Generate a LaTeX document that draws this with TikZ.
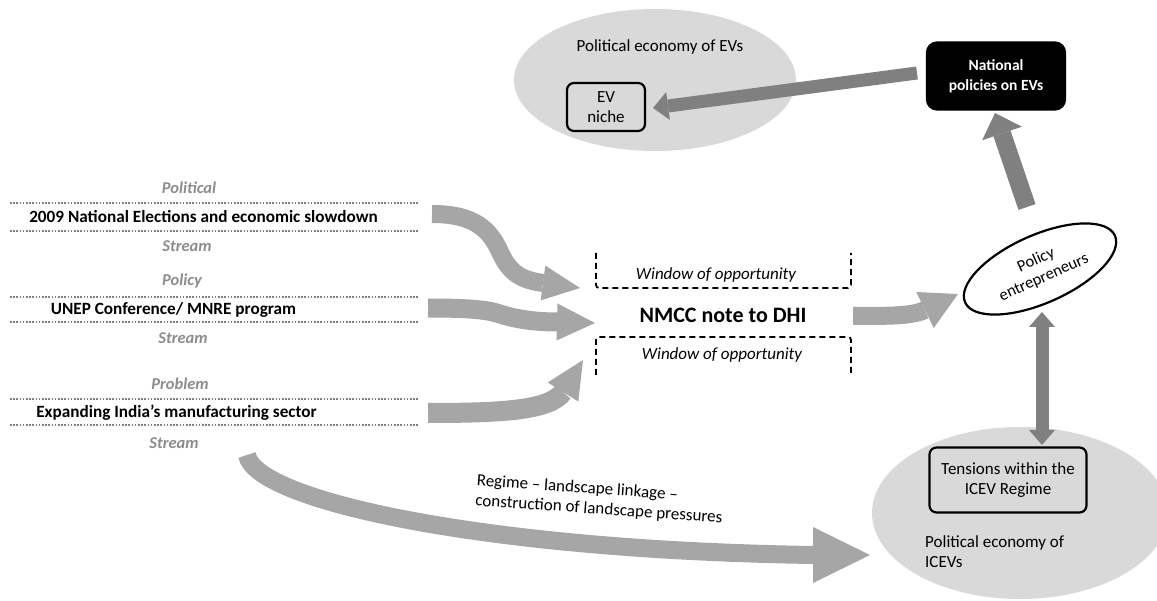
\documentclass[tikz,border=0pt]{standalone}
\usepackage{fontspec}
\setmainfont{Carlito}
\usetikzlibrary{shapes.geometric,calc}
\definecolor{lgray}{HTML}{A6A6A6}
\definecolor{dgray}{HTML}{808080}
\definecolor{efill}{HTML}{D9D9D9}
\definecolor{sgray}{HTML}{8C8C8C}
\definecolor{dotc}{HTML}{808080}
\newcommand\arrhead[4]{\fill[#4] ($(#1)!#3!90:(#2)$) -- (#2) -- ($(#1)!#3!-90:(#2)$) -- cycle;}
\begin{document}
\begin{tikzpicture}[x=1pt,y=-1pt,
  streamlbl/.style={text=sgray, inner sep=0pt, font=\fontsize{16.5}{18}\selectfont\bfseries\itshape},
  streamtxt/.style={inner sep=0pt, font=\fontsize{17.2}{20}\selectfont\bfseries},
  dotline/.style={dotc, line width=1.6pt, dash pattern=on 1.6pt off 1.6pt},
  plain/.style={inner sep=0pt, font=\fontsize{17}{20}\selectfont},
  winlbl/.style={inner sep=0pt, font=\fontsize{17}{20}\selectfont\itshape},
  bracket/.style={line width=1.8pt, dash pattern=on 6pt off 4pt, rounded corners=3pt},
  rbox/.style={draw=black, line width=2.2pt, rounded corners=7pt, fill=efill, align=center,
    inner sep=0pt, font=\fontsize{17}{20.5}\selectfont},
  lshaft/.style={lgray, line cap=butt},
  dshaft/.style={dgray, line cap=butt},
  bigell/.style={ellipse, fill=efill, inner sep=0pt}
]
\useasboundingbox (0,0) rectangle (1157,601);

% --- political economy ellipses
\node[bigell, minimum width=282pt, minimum height=142pt] (evpe) at (655,80) {};
\node[bigell, minimum width=296pt, minimum height=172pt] (icpe) at (1020,513) {};
\node[plain] (evpelbl) at (660,47) {Political economy of EVs};
\node[plain, align=left, anchor=west, font=\fontsize{17}{20}\selectfont] (icpelbl) at (925,552) {Political economy of\\ICEVs};

% --- streams
\node[streamlbl] (l1a) at (189,188) {Political};
\draw[dotline] (10,203) -- (418,203);
\node[streamtxt] (s1) at (203.5,217) {2009 National Elections and economic slowdown};
\draw[dotline] (10,231) -- (418,231);
\node[streamlbl] (l1b) at (187,246) {Stream};

\node[streamlbl] (l2a) at (182,281) {Policy};
\draw[dotline] (10,297) -- (418,297);
\node[streamtxt] (s2) at (173.5,310) {UNEP Conference/ MNRE program};
\draw[dotline] (10,322) -- (418,322);
\node[streamlbl] (l2b) at (183,338) {Stream};

\node[streamlbl] (l3a) at (180,384) {Problem};
\draw[dotline] (10,399) -- (418,399);
\node[streamtxt] (s3) at (176.5,413) {Expanding India’s manufacturing sector};
\draw[dotline] (10,425) -- (418,425);
\node[streamlbl] (l3b) at (174,443) {Stream};

% --- window of opportunity
\draw[bracket] (596,253) -- (596,288) -- (851,288) -- (851,253);
\draw[bracket] (596,375) -- (596,337) -- (851,337) -- (851,375);
\node[winlbl] (w1) at (716,275) {Window of opportunity};
\node[winlbl] (w2) at (722,355) {Window of opportunity};
\node[inner sep=0pt, font=\fontsize{22}{26}\selectfont\bfseries] (nmcc) at (723,315) {NMCC note to DHI};

% --- policy entrepreneurs
\node[draw=black, line width=2.2pt, fill=white, ellipse, rotate=24, minimum width=164pt,
  minimum height=68pt, inner sep=0pt, align=center, font=\fontsize{16.5}{19}\selectfont] (ent) at (1040,269) {Policy\\entrepreneurs};

% --- coordinates for arrow ends
\coordinate (a1s) at (432,214); \coordinate (a1b) at (543,283); \coordinate (a1t) at (580,288);
\coordinate (a2s) at (428,308); \coordinate (a2b) at (557,322); \coordinate (a2t) at (595,323);
\coordinate (a3s) at (428,413); \coordinate (a3b) at (563,392); \coordinate (a3t) at (583,360);
\coordinate (a4s) at (853,316); \coordinate (a4b) at (925,310); \coordinate (a4t) at (958,294);
\coordinate (a5s) at (247,455); \coordinate (a5b) at (813,555); \coordinate (a5t) at (870,555);
\coordinate (a6s) at (917,73);  \coordinate (a6b) at (668,106); \coordinate (a6t) at (653,108);
\coordinate (a7s) at (1027,207); \coordinate (a7b) at (1002,133.5); \coordinate (a7t) at (995,113);
\coordinate (a8t) at (1042,312); \coordinate (a8u) at (1042,327);
\coordinate (a8v) at (1042,430); \coordinate (a8w) at (1042,445);

% --- light arrows
\draw[lshaft, line width=18pt] (a1s) .. controls (475,214) and (490,230) .. (500,252)
   .. controls (510,274) and (522,280) .. (a1b);
\arrhead{a1b}{a1t}{17.5pt}{lgray}
\draw[lshaft, line width=19pt] (a2s) .. controls (480,308) and (490,311) .. (500,314)
   .. controls (515,319) and (535,322) .. (a2b);
\arrhead{a2b}{a2t}{18.5pt}{lgray}
\draw[lshaft, line width=20pt] (a3s) .. controls (505,413) and (550,410) .. (a3b);
\arrhead{a3b}{a3t}{18pt}{lgray}
\draw[lshaft, line width=18pt] (a4s) .. controls (890,316) and (912,316) .. (a4b);
\arrhead{a4b}{a4t}{20pt}{lgray}
\draw[lshaft, line width=18pt] (a5s) .. controls (255,500) and (480,550) .. (a5b);
\arrhead{a5b}{a5t}{28pt}{lgray}

% --- dark arrows
\draw[dshaft, line width=13pt] (a6s) -- (a6b);
\arrhead{a6b}{a6t}{14pt}{dgray}
\draw[dshaft, line width=18pt] (a7s) -- (a7b);
\arrhead{a7b}{a7t}{21pt}{dgray}
\draw[dshaft, line width=13pt] (a8u) -- (a8v);
\arrhead{a8u}{a8t}{13pt}{dgray}
\arrhead{a8v}{a8w}{13pt}{dgray}

% --- boxes
\node[rbox, minimum width=78pt, minimum height=48pt] (ev) at (606,107) {EV\\niche};
\node[rbox, minimum width=157pt, minimum height=65pt] (tens) at (1008,480) {Tensions within the\\ICEV Regime};
\node[rbox, fill=black, draw=black, text=white, rounded corners=10pt, minimum width=138pt,
  minimum height=67pt, font=\fontsize{15.5}{20}\selectfont\bfseries] (nat) at (996,76) {National\\policies on EVs};

% --- landscape label
\node[plain, align=left, rotate=-4, anchor=west] (land) at (476,491) {Regime – landscape linkage –\\construction of landscape pressures};
\end{tikzpicture}
\end{document}
